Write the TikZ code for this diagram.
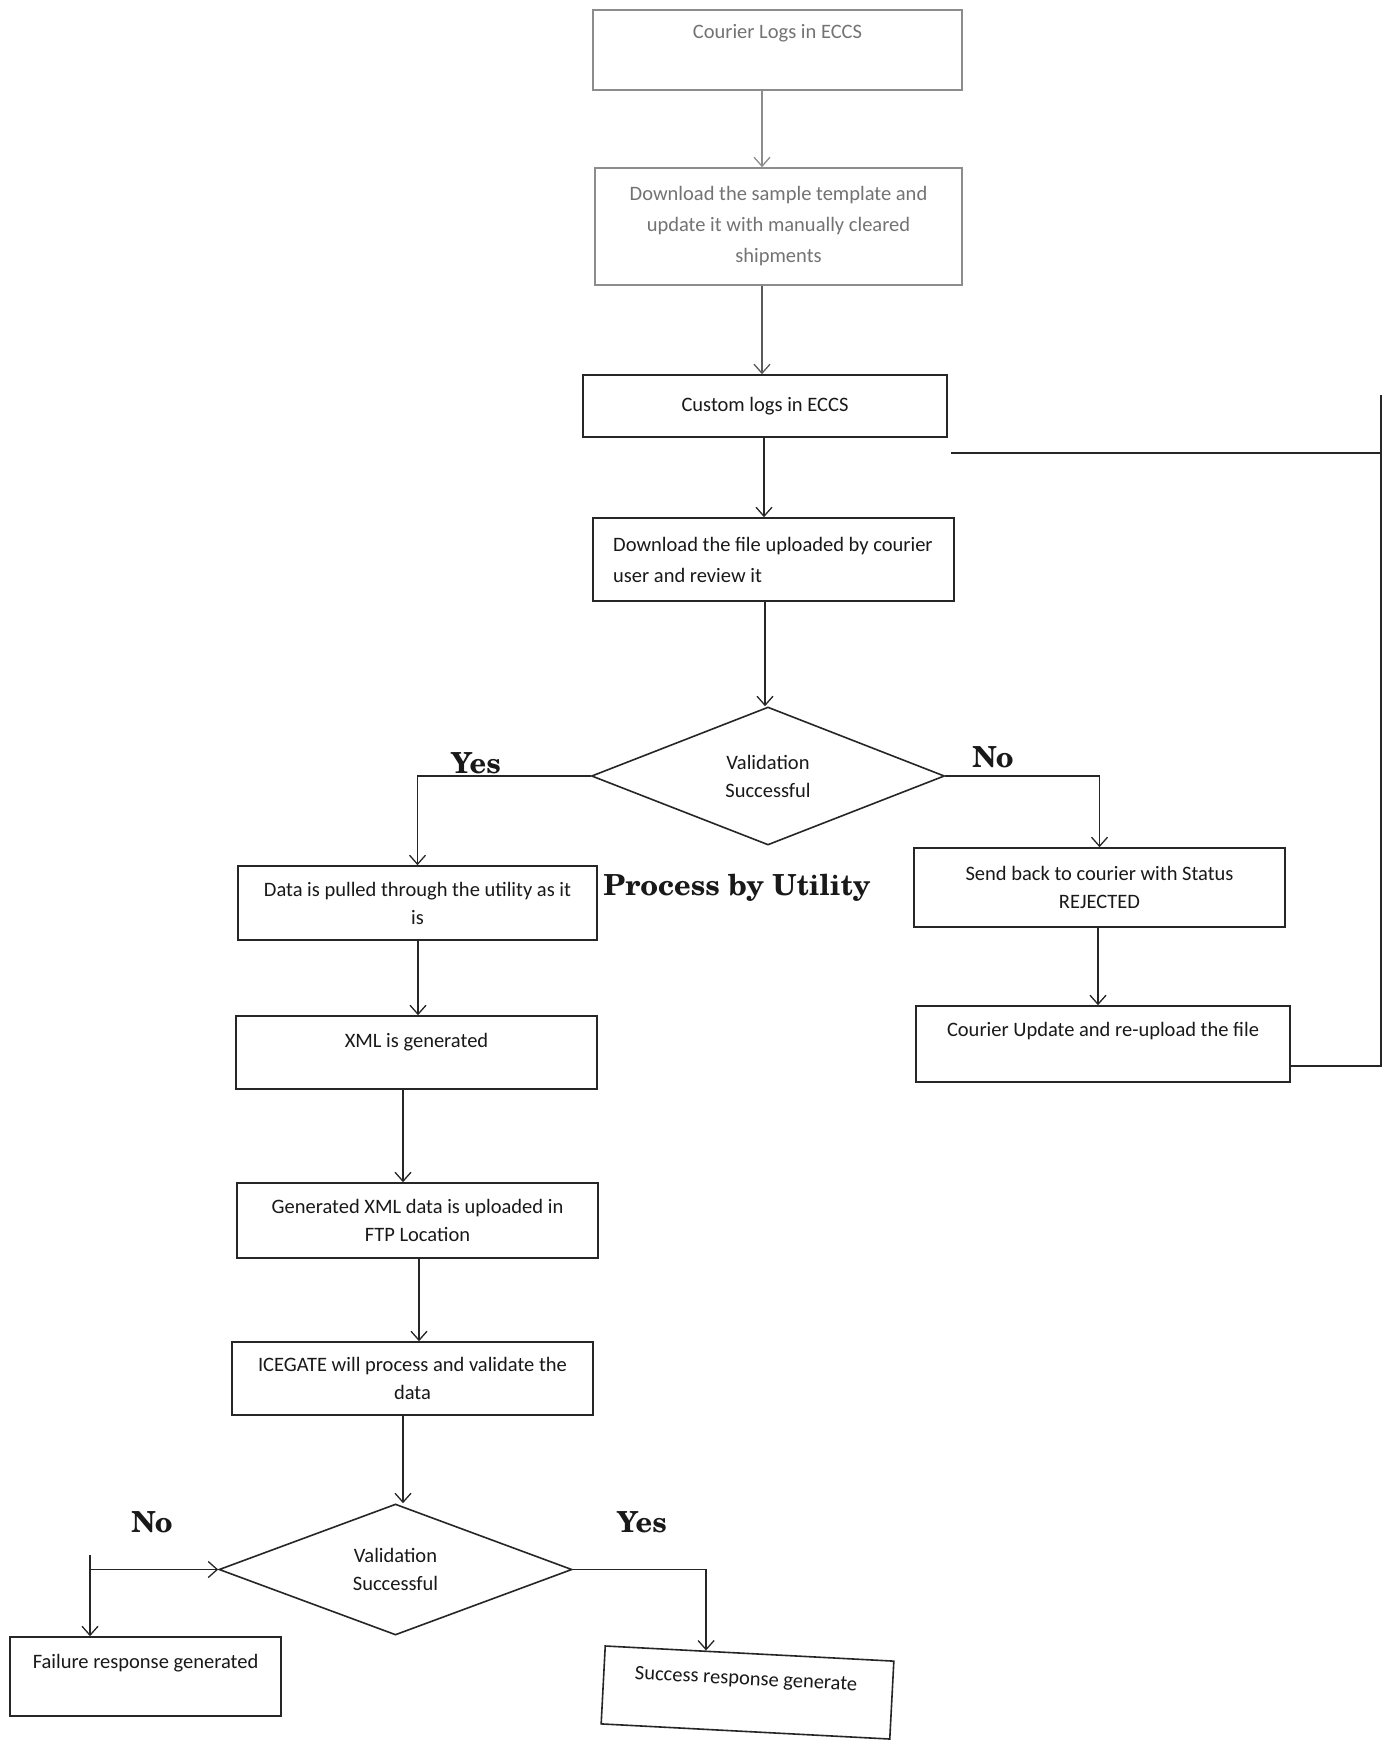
\documentclass[tikz,border=0pt]{standalone}
\usepackage{fontspec}
\setmainfont{Carlito}
\newfontface\scholabold{texgyreschola-bold.otf}
\usetikzlibrary{arrows.meta,calc,shapes.geometric}
\tikzset{
  bodyfont/.style={font=\fontsize{20.5}{28}\selectfont},
  box/.style={draw=black!85, line width=1.6pt, rectangle, inner sep=0pt, align=center, bodyfont, text=black!90},
  fadebox/.style={box, draw=black!45, text=black!55},
  txt/.style={inner sep=0pt, align=center, bodyfont, text=black!90},
  dia/.style={draw=black!85, line width=1.6pt, diamond, inner sep=0pt, align=center, bodyfont, text=black!90},
  lab/.style={inner sep=0pt, font=\scholabold\fontsize{29}{32}\selectfont, text=black!90},
  conn/.style={line width=1.3pt, draw=black!85},
  arr/.style={conn, -{Straight Barb[length=9pt,width=16pt,line width=1.3pt]}}
}
\begin{document}
\begin{tikzpicture}[x=1pt,y=-1pt]
\fill[white] (0,0) rectangle (1385,1744);
\useasboundingbox (0,0) rectangle (1385,1744);

% top column
\node[fadebox, minimum width=369pt, minimum height=80pt] (b1) at (777.5,50) {};
\node[txt, text=black!55] (t1) at (777.5,33) {Courier Logs in ECCS};
\node[fadebox, minimum width=367pt, minimum height=117pt, font=\fontsize{20.5}{31}\selectfont] (b2) at (778.5,226.5)
  {Download the sample template and\\update it with manually cleared\\shipments};
\node[box, minimum width=364pt, minimum height=62pt] (b3) at (765,406) {Custom logs in ECCS};
\node[box, minimum width=361pt, minimum height=83pt] (b4) at (773.5,559.5) {};
\node[txt, anchor=west, align=left, font=\fontsize{20.5}{31}\selectfont] (t4) at (613,559.5)
  {Download the file uploaded by courier\\user and review it};
\node[dia, minimum width=353pt, minimum height=138pt] (d1) at (768,776) {Validation\\Successful};

% left column
\node[box, minimum width=359pt, minimum height=74pt] (b6) at (417.5,903) {Data is pulled through the utility as it\\is};
\node[box, minimum width=361pt, minimum height=73pt] (b7) at (416.5,1052.5) {};
\node[txt] (t7) at (416.5,1042) {XML is generated};
\node[box, minimum width=361pt, minimum height=75pt] (b8) at (417.5,1220.5) {Generated XML data is uploaded in\\FTP Location};
\node[box, minimum width=361pt, minimum height=73pt] (b9) at (412.5,1378.5) {ICEGATE will process and validate the\\data};
\node[dia, minimum width=353pt, minimum height=131pt] (d2) at (395.5,1569.5) {Validation\\Successful};
\node[box, minimum width=271pt, minimum height=79pt] (fail) at (145.5,1676.5) {};
\node[txt] (tfail) at (145.5,1663) {Failure response generated};
\node[box, rotate=-3, minimum width=289pt, minimum height=78pt] (succ) at (747.5,1692.5) {};
\node[txt, rotate=-3] (tsucc) at (746,1680) {Success response generate};

% right column
\node[box, minimum width=371pt, minimum height=79pt] (sb) at (1099.5,887.5) {Send back to courier with Status\\REJECTED};
\node[box, minimum width=374pt, minimum height=76pt] (up) at (1103,1044) {};
\node[txt] (tup) at (1103,1031) {Courier Update and re-upload the file};

% labels
\node[lab] (yes1) at (476,763) {Yes};
\node[lab] (no1) at (993,757) {No};
\node[lab] (no2) at (152,1522) {No};
\node[lab] (yes2) at (642,1522) {Yes};
\node[lab] (proc) at (737,888) {Process by Utility};

% helper coordinates
\coordinate (x1) at (762,0);
\coordinate (x3) at (764,0);
\coordinate (x4) at (765,0);
\coordinate (x6) at (418,0);
\coordinate (x7) at (403,0);
\coordinate (x8) at (419,0);
\coordinate (xs) at (1098,0);
\coordinate (lt) at (1381,395);
\coordinate (lh) at (951,453);
\coordinate (n2) at (90,1555);
\coordinate (sx) at ($(succ.north west)!0.35!(succ.north east)$);

% connectors
\draw[arr, draw=black!45] (b1.south -| x1) -- (b2.north -| x1);
\draw[arr, draw=black!65] (b2.south -| x1) -- (b3.north -| x1);
\draw[arr] (b3.south -| x3) -- (b4.north -| x3);
\draw[arr] (b4.south -| x4) -- (d1.north -| x4);
\draw[arr] (d1.west) -| (b6.north);
\draw[arr] (d1.east) -| (sb.north);
\draw[arr] (sb.south -| xs) -- (up.north -| xs);
\draw[conn] ([yshift=-22pt]up.east) -| (lt);
\draw[conn] (lh) -- (lh -| lt);
\draw[arr] (b6.south -| x6) -- (b7.north -| x6);
\draw[arr] (b7.south -| x7) -- (b8.north -| x7);
\draw[arr] (b8.south -| x8) -- (b9.north -| x8);
\draw[arr] (b9.south -| x7) -- (d2.north -| x7);
\draw[arr] (n2) -- (fail.north -| n2);
\draw[arr] (d2.west -| n2) -- (d2.west);
\draw[arr] (d2.east) -| (sx);
\end{tikzpicture}
\end{document}
